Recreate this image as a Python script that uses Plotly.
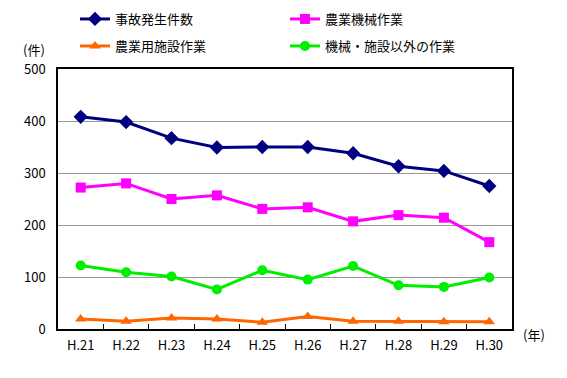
import plotly.graph_objects as go

years = ["H.21", "H.22", "H.23", "H.24", "H.25", "H.26", "H.27", "H.28", "H.29", "H.30"]
total = [408, 398, 367, 349, 350, 350, 338, 313, 304, 275]
machine = [272, 280, 250, 257, 231, 234, 207, 219, 214, 167]
facility = [19, 15, 21, 19, 13, 24, 15, 15, 14, 14]
other = [122, 109, 101, 76, 113, 95, 121, 84, 81, 99]

FONT = "Noto Sans CJK JP"
OFF = 8  # default page body margin
W, H = 567 - OFF, 378 - OFF
L, R, T, B = 58 - OFF, 55, 69 - OFF, 49
pw = W - L - R
ph = H - T - B

fig = go.Figure()
series = [
    ("事故発生件数", total, "#000080", "diamond", 11, "legend"),
    ("農業機械作業", machine, "#FF00FF", "square", 10, "legend"),
    ("農業用施設作業", facility, "#FF6600", "triangle-up", 10, "legend2"),
    ("機械・施設以外の作業", other, "#00EE00", "circle", 10, "legend2"),
]
for name, vals, col, sym, sz, lg in series:
    fig.add_trace(go.Scatter(
        x=years, y=vals, name=name, mode="lines+markers",
        line=dict(color=col, width=3),
        marker=dict(symbol=sym, size=sz, color=col),
        legend=lg,
    ))

def px_x(p):
    return (p - OFF - L) / pw

def px_y(p):
    return 1 - (p - OFF - T) / ph

leg_common = dict(
    orientation="h", xanchor="left", yanchor="middle",
    entrywidth=165, entrywidthmode="pixels",
    font=dict(family=FONT, size=13, color="#000000"),
    bgcolor="rgba(0,0,0,0)", itemwidth=30,
)
fig.update_layout(
    width=W, height=H,
    margin=dict(l=L, r=R, t=T, b=B, autoexpand=False),
    paper_bgcolor="white", plot_bgcolor="white",
    font=dict(family=FONT, size=13, color="#000000"),
    legend=dict(x=px_x(75), y=px_y(19), **leg_common),
    legend2=dict(x=px_x(75), y=px_y(46), **leg_common),
    xaxis=dict(
        showline=True, linecolor="#000000", linewidth=1.5, mirror=True,
        ticks="inside", ticklen=5, tickcolor="#000000", tickson="boundaries",
        showgrid=False, tickfont=dict(family=FONT, size=13),
        range=[-0.5, 9.5], ticklabelstandoff=4,
    ),
    yaxis=dict(
        range=[0, 500], dtick=100,
        showline=True, linecolor="#000000", linewidth=1.5, mirror=True,
        showgrid=True, gridcolor="#999999", gridwidth=1,
        ticks="", tickfont=dict(family=FONT, size=13),
        zeroline=False, ticklabelstandoff=8,
    ),
    annotations=[
        dict(text="(件)", xref="paper", yref="paper", x=px_x(34), y=px_y(38),
             xanchor="center", showarrow=False, font=dict(family=FONT, size=13)),
        dict(text="(年)", xref="paper", yref="paper", x=px_x(534), y=px_y(346),
             xanchor="center", showarrow=False, font=dict(family=FONT, size=13)),
    ],
)

fig.write_html("out.html")
